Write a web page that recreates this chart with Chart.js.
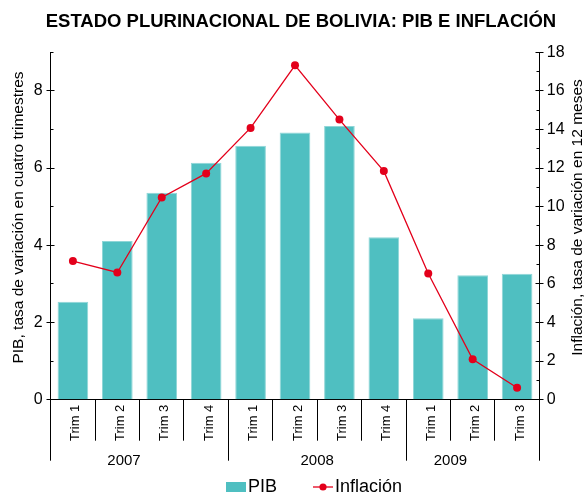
<!DOCTYPE html>
<html>
<head>
<meta charset="utf-8">
<script src="https://cdn.jsdelivr.net/npm/chart.js@4.4.1/dist/chart.umd.min.js"></script>
<style>
  html, body { margin: 0; padding: 0; background: #fff; }
</style>
</head>
<body>
<canvas id="myChart" width="586" height="496"></canvas>
<script>
// dati
var trimestri = ["Trim 1", "Trim 2", "Trim 3", "Trim 4", "Trim 1", "Trim 2", "Trim 3", "Trim 4", "Trim 1", "Trim 2", "Trim 3"];
var anni = ["2007", "2008", "2009"];
var trimPerAnno = [4, 4, 3];
var pib = [2.54, 4.11, 5.36, 6.14, 6.58, 6.92, 7.09, 4.21, 2.11, 3.22, 3.26];
var inflazione = [7.18, 6.59, 10.48, 11.72, 14.08, 17.32, 14.51, 11.84, 6.54, 2.09, 0.62];

// posizione (in categorie) delle etichette degli anni
var posAnni = [1.15, 5.5, 8.5];

var FONT = "'Liberation Sans', Arial, sans-serif";
var TEAL = "#4FBFC1";
var ROSSO = "#E3001B";

Chart.defaults.font.family = FONT;
Chart.defaults.color = "#000";

// icone della legenda (la parte sinistra resta trasparente per distanziare le voci)
function nuovaIcona() {
  var c = document.createElement("canvas");
  c.width = 53; c.height = 10;
  return c;
}

function iconaPib() {
  var c = nuovaIcona();
  var g = c.getContext("2d");
  g.fillStyle = TEAL;
  g.fillRect(33, 0, 20, 10);
  return c;
}

function iconaInflazione() {
  var c = nuovaIcona();
  var g = c.getContext("2d");
  g.strokeStyle = ROSSO;
  g.lineWidth = 1.3;
  g.beginPath();
  g.moveTo(33, 5); g.lineTo(53, 5);
  g.stroke();
  g.fillStyle = ROSSO;
  g.beginPath();
  g.arc(43, 5, 3.6, 0, Math.PI * 2);
  g.fill();
  return c;
}

var icone = [iconaPib(), iconaInflazione()];

function px(p) {
  return Math.round(p - 0.5) + 0.5;
}

// plugin per tacche, separatori, anni e titoli degli assi
var decorazioni = {
  id: "decorazioni",
  afterDraw: function(chart) {
    var ctx = chart.ctx;
    var area = chart.chartArea;
    var xs = chart.scales.x;
    var ys = chart.scales.y;
    var ys1 = chart.scales.y1;
    var sx = px(area.left);
    var dx = px(area.right);

    ctx.save();
    ctx.strokeStyle = "#000";
    ctx.lineWidth = 1;

    // tacche asse sinistro
    for (var v = 0; v <= ys.max; v++) {
      var py = px(ys.getPixelForValue(v));
      ctx.beginPath();
      if (v % 2 === 0) {
        ctx.moveTo(sx - 4, py); ctx.lineTo(sx + 4, py);
      } else {
        ctx.moveTo(sx, py); ctx.lineTo(sx + 3, py);
      }
      ctx.stroke();
    }

    // tacche asse destro
    for (var w = 0; w <= ys1.max; w++) {
      var py1 = px(ys1.getPixelForValue(w));
      ctx.beginPath();
      if (w % 2 === 0) {
        ctx.moveTo(dx - 4, py1); ctx.lineTo(dx + 4, py1);
      } else {
        ctx.moveTo(dx - 3, py1); ctx.lineTo(dx, py1);
      }
      ctx.stroke();
    }

    // separatori tra i trimestri e tra gli anni
    var n = trimestri.length;
    var confini = [0];
    for (var a = 0; a < trimPerAnno.length; a++) {
      confini.push(confini[confini.length - 1] + trimPerAnno[a]);
    }
    for (var i = 0; i <= n; i++) {
      var bx;
      if (i === 0) bx = area.left;
      else if (i === n) bx = area.right;
      else bx = (xs.getPixelForValue(i - 1) + xs.getPixelForValue(i)) / 2;
      var lungo = confini.indexOf(i) !== -1;
      ctx.beginPath();
      ctx.moveTo(px(bx), area.bottom);
      ctx.lineTo(px(bx), area.bottom + (lungo ? 61 : 41));
      ctx.stroke();
    }

    // etichette degli anni
    ctx.fillStyle = "#000";
    ctx.font = "15px " + FONT;
    ctx.textAlign = "center";
    ctx.textBaseline = "alphabetic";
    for (var k = 0; k < anni.length; k++) {
      ctx.fillText(anni[k], xs.getPixelForValue(posAnni[k]), area.bottom + 65);
    }

    // titoli degli assi
    ctx.font = "15.5px " + FONT;
    ctx.textBaseline = "middle";
    ctx.save();
    ctx.translate(19, 217.5);
    ctx.rotate(-Math.PI / 2);
    ctx.fillText("PIB, tasa de variación en cuatro trimestres", 0, 0);
    ctx.restore();
    ctx.save();
    ctx.translate(578, 217.5);
    ctx.rotate(-Math.PI / 2);
    ctx.fillText("Inflación, tasa de variación en 12 meses", 0, 0);
    ctx.restore();

    ctx.restore();
  }
};

var ctx = document.getElementById("myChart").getContext("2d");
var myChart = new Chart(ctx, {
  type: "bar",
  data: {
    labels: trimestri,
    datasets: [{
      type: "bar",
      label: "PIB",
      data: pib,
      yAxisID: "y",
      backgroundColor: TEAL,
      borderColor: "#8FD6D7",
      borderWidth: 1,
      barPercentage: 0.69,
      categoryPercentage: 1,
      order: 1
    }, {
      type: "line",
      label: "Inflación",
      data: inflazione,
      yAxisID: "y1",
      borderColor: ROSSO,
      backgroundColor: ROSSO,
      borderWidth: 1.3,
      pointRadius: 4,
      pointBorderWidth: 0,
      pointBackgroundColor: ROSSO,
      tension: 0,
      order: 0
    }]
  },
  options: {
    responsive: false,
    animation: false,
    devicePixelRatio: 1,
    layout: {
      padding: { left: 16, right: 0, top: 0, bottom: -10 }
    },
    plugins: {
      title: {
        display: true,
        text: "ESTADO PLURINACIONAL DE BOLIVIA: PIB E INFLACIÓN",
        font: { size: 18.5, weight: "bold" },
        color: "#000",
        padding: { top: 11, bottom: 19 }
      },
      legend: {
        position: "bottom",
        labels: {
          usePointStyle: true,
          pointStyleWidth: 39,
          padding: 10,
          font: { size: 18 },
          color: "#000",
          generateLabels: function(chart) {
            var items = Chart.defaults.plugins.legend.labels.generateLabels(chart);
            items.sort(function(a, b) { return a.datasetIndex - b.datasetIndex; });
            items.forEach(function(it) { it.pointStyle = icone[it.datasetIndex]; });
            return items;
          }
        }
      },
      tooltip: { enabled: false }
    },
    scales: {
      x: {
        offset: true,
        grid: { display: true, drawOnChartArea: false, drawTicks: false },
        border: { display: true, color: "#000", width: 1 },
        ticks: {
          autoSkip: false,
          minRotation: 90,
          maxRotation: 90,
          padding: 5,
          labelOffset: 3,
          font: { size: 13 },
          color: "#000"
        },
        afterFit: function(scale) { scale.height = 68.3; }
      },
      y: {
        position: "left",
        min: 0,
        max: 9,
        grid: { display: true, drawOnChartArea: false, drawTicks: false },
        border: { display: true, color: "#000", width: 1 },
        ticks: {
          stepSize: 1,
          padding: 8,
          font: { size: 16 },
          color: "#000",
          callback: function(v) { return v % 2 === 0 ? v : ""; }
        },
        afterFit: function(scale) { scale.width = 34.7; }
      },
      y1: {
        position: "right",
        min: 0,
        max: 18,
        grid: { display: true, drawOnChartArea: false, drawTicks: false },
        border: { display: true, color: "#000", width: 1 },
        ticks: {
          stepSize: 2,
          padding: 7.5,
          font: { size: 16 },
          color: "#000"
        },
        afterFit: function(scale) { scale.width = 46.7; }
      }
    }
  },
  plugins: [decorazioni]
});
</script>
</body>
</html>
